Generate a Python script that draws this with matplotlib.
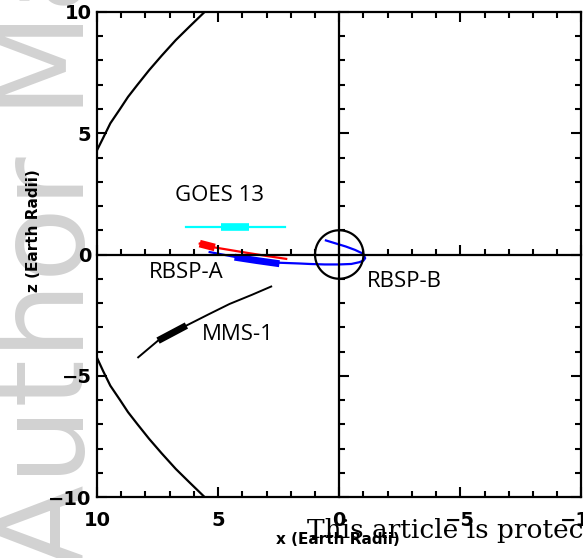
import matplotlib
matplotlib.use('Agg')
import matplotlib.pyplot as plt
import numpy as np

# magnetopause, upper and lower branch
mp_up_x = [10.0, 9.75, 9.45, 9.05, 8.72, 8.33, 7.85, 7.33, 6.75, 6.18, 5.56]
mp_up_z = [4.30, 4.80, 5.41, 6.00, 6.50, 7.00, 7.60, 8.20, 8.84, 9.40, 10.0]
mp_lo_x = [10.0, 9.75, 9.45, 9.05, 8.72, 8.33, 7.85, 7.33, 6.75, 6.18, 5.56]
mp_lo_z = [-4.26, -4.80, -5.41, -6.00, -6.50, -7.00, -7.60, -8.20, -8.84, -9.40, -10.0]

# GOES 13
goes_x = [6.34, 2.22]
goes_z = [1.13, 1.13]
goes_thick_x = [4.87, 3.74]
goes_thick_z = [1.13, 1.13]

# RBSP-A
rbspa_x = [5.76, 5.14, 4.0, 3.0, 2.19]
rbspa_z = [0.45, 0.29, 0.10, -0.06, -0.18]
rbspa_thick_x = [5.76, 5.14]
rbspa_thick_z = [0.45, 0.29]

# RBSP-B
rbspb_x = [5.35, 4.30, 3.30, 2.47, 1.65, 1.23, 0.6, 0.0, -0.5, -0.82, -1.0, -1.07, -0.99, -0.65, -0.27, 0.55]
rbspb_z = [0.10, -0.10, -0.24, -0.34, -0.37, -0.39, -0.41, -0.41, -0.39, -0.32, -0.25, -0.15, 0.03, 0.19, 0.33, 0.58]
rbspb_thick_x = [4.32, 3.4, 2.47]
rbspb_thick_z = [-0.11, -0.25, -0.38]

# MMS-1
mms_x = [8.30, 7.48, 6.31, 5.40, 4.53, 3.60, 2.81]
mms_z = [-4.24, -3.55, -2.93, -2.47, -2.04, -1.66, -1.32]
mms_thick_x = [7.48, 6.31]
mms_thick_z = [-3.55, -2.93]

labels = ['GOES 13', 'RBSP-A', 'RBSP-B', 'MMS-1']
label_x = [4.94, 6.32, -2.67, 4.18]
label_z = [2.44, -0.73, -1.11, -3.28]

fig = plt.figure(figsize=(5.83, 5.58), dpi=100)

# watermark
fig.text(84/583, -10/558, 'Author Manuscript', rotation=90, fontsize=88,
         color='#d2d2d2', family='DejaVu Sans', ha='left', va='baseline',
         rotation_mode='anchor', zorder=-1)

ax = fig.add_axes([0.1664, 0.1093, 0.8310, 0.8692])
ax.patch.set_alpha(0)
ax.set_xlim(10, -10)
ax.set_ylim(-10, 10)

ax.plot(mp_up_x, mp_up_z, c='k', lw=1.6)
ax.plot(mp_lo_x, mp_lo_z, c='k', lw=1.6)

ax.plot(goes_x, goes_z, c='cyan', lw=1.6)
ax.plot(goes_thick_x, goes_thick_z, c='cyan', lw=5.5, solid_capstyle='butt')

ax.plot(rbspa_x, rbspa_z, c='red', lw=1.6)
ax.plot(rbspa_thick_x, rbspa_thick_z, c='red', lw=5.5, solid_capstyle='butt')

ax.plot(rbspb_x, rbspb_z, c='blue', lw=1.6)
ax.plot(rbspb_thick_x, rbspb_thick_z, c='blue', lw=5, solid_capstyle='butt')

ax.plot(mms_x, mms_z, c='k', lw=1.4)
ax.plot(mms_thick_x, mms_thick_z, c='k', lw=5, solid_capstyle='butt')

# Earth
theta = np.linspace(0, 2*np.pi, 200)
ax.plot(np.cos(theta), np.sin(theta), c='k', lw=1.6)

for txt, x, z in zip(labels, label_x, label_z):
    ax.text(x, z, txt, family='Open Sans', fontsize=16, ha='center', va='center')

for s in ax.spines.values():
    s.set_linewidth(1.6)
ax.set_xticks([10, 5, 0, -5, -10])
ax.set_yticks([-10, -5, 0, 5, 10])
ax.set_xticks(np.arange(-10, 11, 1), minor=True)
ax.set_yticks(np.arange(-10, 11, 1), minor=True)
ax.tick_params(which='both', direction='in', top=True, right=True, width=1.5)
ax.tick_params(which='major', length=7)
ax.tick_params(which='minor', length=4)
ax.tick_params(axis='x', pad=10)
ax.tick_params(axis='y', pad=4)
for lab in ax.get_xticklabels() + ax.get_yticklabels():
    lab.set_fontweight('bold')
    lab.set_fontsize(14)
ax.set_xlabel('x (Earth Radii)', fontsize=11, fontweight='bold')
ax.set_ylabel('z (Earth Radii)', fontsize=11, fontweight='bold')
ax.xaxis.set_label_coords(0.498, -0.073)
ax.yaxis.set_label_coords(-0.115, 0.55)

# axes through the origin
ax0 = fig.add_axes(ax.get_position())
ax0.patch.set_alpha(0)
ax0.set_xlim(10, -10)
ax0.set_ylim(-10, 10)
for side in ['top', 'right']:
    ax0.spines[side].set_visible(False)
ax0.spines['left'].set_position(('data', 0))
ax0.spines['bottom'].set_position(('data', 0))
ax0.spines['left'].set_linewidth(1.6)
ax0.spines['bottom'].set_linewidth(1.6)
ax0.set_xticks([10, 5, 0, -5, -10])
ax0.set_yticks([-10, -5, 0, 5, 10])
ax0.set_xticks(np.arange(-10, 11, 1), minor=True)
ax0.set_yticks(np.arange(-10, 11, 1), minor=True)
ax0.tick_params(which='both', direction='in', width=1.5,
                labelbottom=False, labelleft=False)
ax0.tick_params(which='major', length=7)
ax0.tick_params(which='minor', length=4)

fig.text(307/583, 1 - 538/558, 'This article is protected by copyright. All rights reserved',
         family='DejaVu Serif', fontsize=19, va='baseline', ha='left')

fig.savefig('out.png', dpi=100)
